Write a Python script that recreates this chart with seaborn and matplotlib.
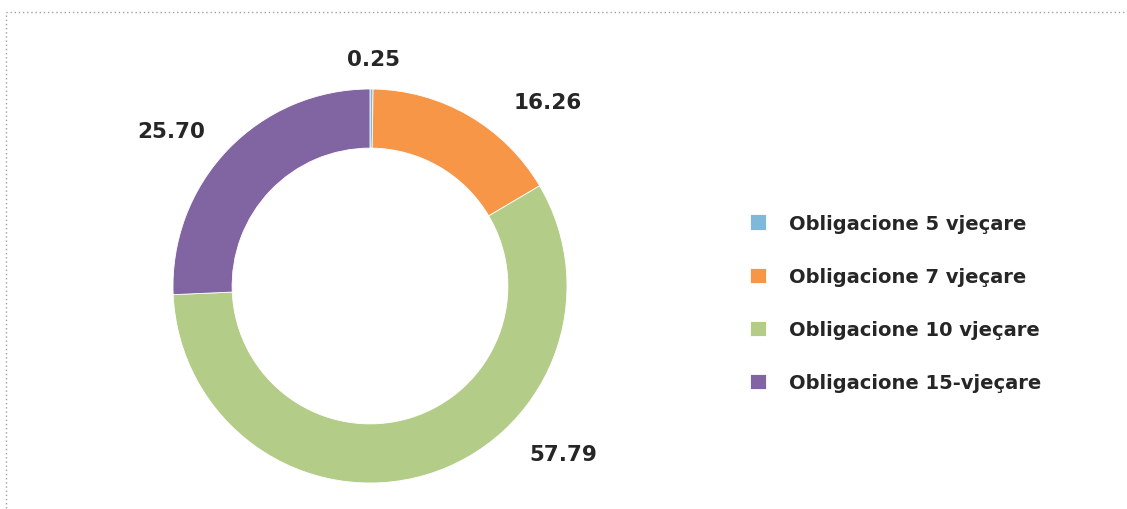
import numpy as np
import matplotlib
matplotlib.use("Agg")
import matplotlib.pyplot as plt
import seaborn as sns
from matplotlib.patches import Rectangle

sns.set_theme(style="white")
plt.rcParams['font.family'] = ['DejaVu Sans']

# data
categories = ["Obligacione 5 vjeçare", "Obligacione 7 vjeçare",
              "Obligacione 10 vjeçare", "Obligacione 15-vjeçare"]
values = [0.25, 16.26, 57.79, 25.70]
colors = ["#7FB8D8", "#F79646", "#B3CD89", "#8165A3"]

# label placement (angle in degrees, distance in radii) - as in the original
label_angle = [89, 46, -41, 142]
label_dist = [1.15, 1.30, 1.30, 1.28]

W, H = 1127, 510
fig = plt.figure(figsize=(W / 100, H / 100), dpi=100)

cx, cy, r = 370, 510 - 287, 197
lim = 1.6
side = 2 * lim * r
ax = fig.add_axes([(cx - side / 2) / W, (cy - side / 2) / H, side / W, side / H])

wedges, _ = ax.pie(values, colors=colors, startangle=90, counterclock=False,
                   radius=1.0, wedgeprops=dict(width=0.30, edgecolor="white", linewidth=0.6))
ax.set_xlim(-lim, lim)
ax.set_ylim(-lim, lim)
ax.set_aspect("equal")
ax.axis("off")

for v, a, d in zip(values, label_angle, label_dist):
    t = np.deg2rad(a)
    ax.text(d * np.cos(t), d * np.sin(t), f"{v:.2f}", ha="center", va="center",
            fontsize=15.5, fontweight="bold", color="#262626")

fig.legend(wedges, categories, loc="center left", bbox_to_anchor=(732 / W, (510 - 304) / H),
           frameon=False, prop=dict(weight="bold", size=14),
           handlelength=0.85, handleheight=0.85, handletextpad=1.2, labelspacing=1.75,
           labelcolor="#262626")

# dotted frame
fig.patches.append(Rectangle((6 / W, -0.1), 1.2, (510 - 13) / H + 0.1, transform=fig.transFigure,
                             fill=False, edgecolor="#A0A0A0", linewidth=1.0,
                             linestyle=(0, (1, 2)), clip_on=False))

fig.savefig("out.png", dpi=100)
